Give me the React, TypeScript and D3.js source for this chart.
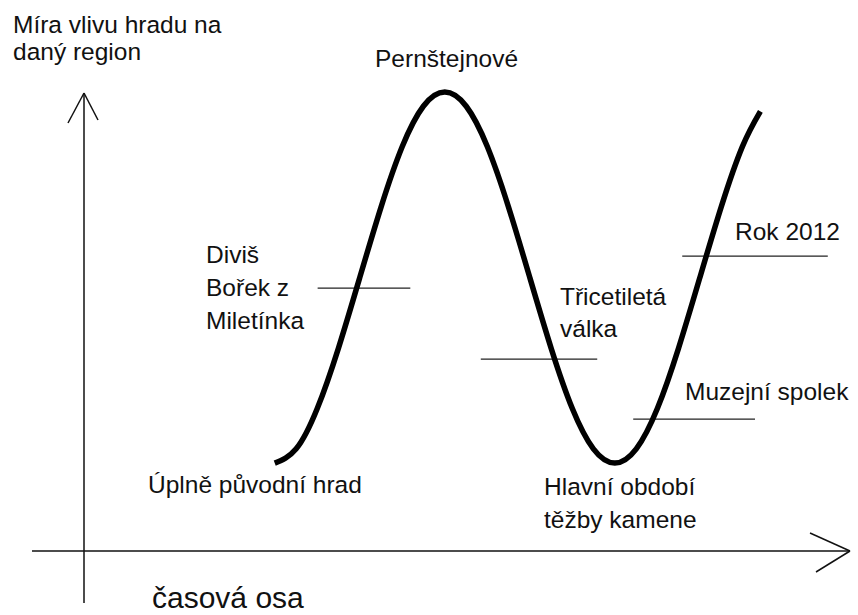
import React from "react";
import * as d3 from "d3";

// ---- data ----
// influence curve: time (arbitrary units) and level of influence (0..100)
const curveTimes = [
  24.9, 27.7, 30.45, 33.2, 36.0, 38.8, 41.55, 44.3, 47.1, 49.9, 52.65, 55.4, 58.2, 61.0, 63.75, 66.5,
  69.3, 72.1, 74.85, 77.6, 80.4, 83.2, 85.95, 88.3,
];
const curveLevels = [
  19.2, 22.3, 31.1, 44.2, 59.7, 75.2, 88.3, 97.1, 100.2, 97.1, 88.3, 75.2, 59.7, 44.2, 31.1, 22.3,
  19.2, 22.3, 31.1, 44.2, 59.7, 75.2, 88.3, 96.0,
];

// events drawn as horizontal marks (time span and level)
const eventNames = ["Diviš Bořek z Miletínka", "Třicetiletá válka", "Muzejní spolek", "Rok 2012"];
const eventStarts = [30.5, 51.8, 71.7, 78.1];
const eventEnds = [42.6, 67.0, 87.6, 97.1];
const eventLevels = [57.4, 41.9, 28.8, 64.4];

// annotation texts
const yAxisTitle = ["Míra vlivu hradu na", "daný region"];
const xAxisTitle = "časová osa";
const annotationLines = [
  ["Pernštejnové"],
  ["Diviš", "Bořek z", "Miletínka"],
  ["Třicetiletá", "válka"],
  ["Muzejní spolek"],
  ["Rok 2012"],
  ["Úplně původní hrad"],
  ["Hlavní období", "těžby kamene"],
];

// ---- layout ----
const W = 858;
const H = 615;
const FONT = "'Liberation Sans', Arial, sans-serif";
const FS = 24.5;

// label anchors (left x, first baseline, line spacing) in pixels
const annotationLayout = [
  { x: 375, y: 67, dy: 33 },
  { x: 206, y: 263, dy: 33 },
  { x: 560, y: 305, dy: 32 },
  { x: 685, y: 400, dy: 33 },
  { x: 735, y: 240, dy: 33 },
  { x: 148, y: 493, dy: 33 },
  { x: 544, y: 495, dy: 33 },
];

export default function App() {
  const x = d3.scaleLinear().domain([0, 100]).range([84, 850]);
  const y = d3.scaleLinear().domain([0, 100]).range([551, 93]);

  const pts: [number, number][] = curveTimes.map((t, i) => [t, curveLevels[i]]);
  const line = d3
    .line<[number, number]>()
    .x((d) => x(d[0]))
    .y((d) => y(d[1]))
    .curve(d3.curveNatural);

  const x0 = x(0);
  const y0 = y(0);
  const xEnd = x(100);
  const yTop = y(100);

  return (
    <svg
      width={W}
      height={H}
      style={{ position: "absolute", left: 0, top: 0, background: "#fff" }}
      fontFamily={FONT}
    >
      <rect width={W} height={H} fill="#fff" />
      {/* y axis */}
      <g stroke="#111" strokeWidth={1.5} fill="none">
        <line x1={x0} y1={yTop} x2={x0} y2={603} />
        <line x1={x0} y1={yTop} x2={68} y2={123} />
        <line x1={x0} y1={yTop} x2={98} y2={120} />
        {/* x axis */}
        <line x1={32} y1={y0} x2={xEnd} y2={y0} />
        <line x1={xEnd} y1={y0} x2={810} y2={533} />
        <line x1={xEnd} y1={y0} x2={816} y2={572} />
      </g>

      {/* event marks */}
      <g stroke="#222" strokeWidth={1.3}>
        {eventNames.map((n, i) => (
          <line
            key={n}
            x1={x(eventStarts[i])}
            x2={x(eventEnds[i])}
            y1={y(eventLevels[i])}
            y2={y(eventLevels[i])}
          />
        ))}
      </g>

      {/* curve */}
      <path d={line(pts) || ""} fill="none" stroke="#000" strokeWidth={5.5} strokeLinecap="butt" />

      {/* texts */}
      <g fill="#111" fontSize={FS}>
        {yAxisTitle.map((t, i) => (
          <text key={t} x={13} y={33 + i * 27}>
            {t}
          </text>
        ))}
        {annotationLines.map((lines, i) =>
          lines.map((t, j) => (
            <text key={t} x={annotationLayout[i].x} y={annotationLayout[i].y + j * annotationLayout[i].dy}>
              {t}
            </text>
          ))
        )}
        <text x={152} y={608} fontSize={30}>
          {xAxisTitle}
        </text>
      </g>
    </svg>
  );
}
